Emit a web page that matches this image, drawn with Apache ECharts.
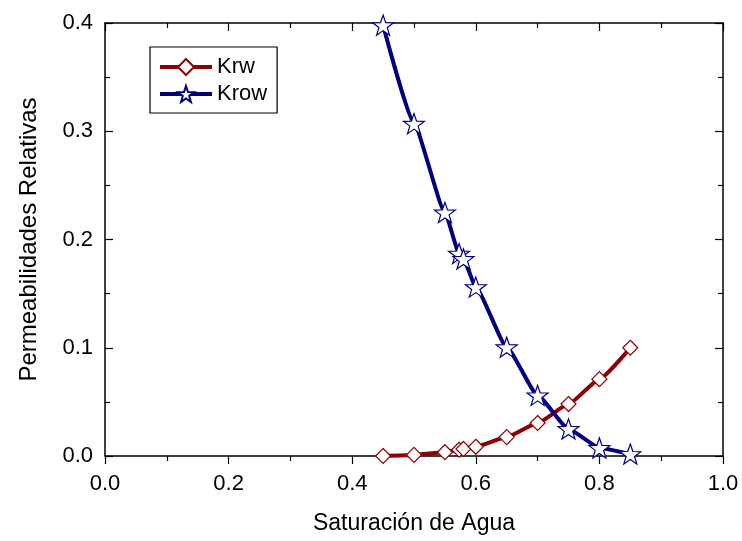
<!DOCTYPE html>
<html>
<head>
<meta charset="utf-8">
<style>
  html, body { margin: 0; padding: 0; background: #ffffff; }
  #chart { width: 742px; height: 541px; }
</style>
<script src="https://cdn.jsdelivr.net/npm/echarts@6/dist/echarts.min.js"></script>
</head>
<body>
<div id="chart"></div>
<script>
// Water saturation (fraction) and relative permeabilities
const swKrw = [0.45, 0.50, 0.55, 0.573, 0.58, 0.60, 0.65, 0.70, 0.75, 0.80, 0.85];
const krw   = [0.000, 0.001, 0.0035, 0.0058, 0.0065, 0.0085, 0.0175, 0.0305, 0.048, 0.071, 0.100];

const swKrow = [0.45, 0.50, 0.55, 0.573, 0.58, 0.60, 0.65, 0.70, 0.75, 0.80, 0.85];
const krow   = [0.398, 0.307, 0.225, 0.187, 0.182, 0.156, 0.1005, 0.056, 0.025, 0.0074, 0.0018];

const xTicks = ['0.0', '0.2', '0.4', '0.6', '0.8', '1.0'];
const yTicks = ['0.0', '0.1', '0.2', '0.3', '0.4'];

// Five-pointed star outline used as the Krow marker
function starPath() {
  const pts = [];
  for (let i = 0; i < 10; i++) {
    const a = (-90 + i * 36) * Math.PI / 180;
    const r = i % 2 === 0 ? 1 : 0.40;
    pts.push((r * Math.cos(a)).toFixed(4) + ' ' + (r * Math.sin(a)).toFixed(4));
  }
  return 'path://M' + pts.join(' L') + ' Z';
}

const font = '"Liberation Sans", Arial, Helvetica, sans-serif';
const red = '#8b0000';
const navy = '#000080';

const chart = echarts.init(document.getElementById('chart'), null, { renderer: 'canvas' });

const axisLine = { show: true, onZero: false, lineStyle: { color: '#000', width: 1.5 } };

chart.setOption({
  animation: false,
  backgroundColor: '#ffffff',
  grid: { left: 105, right: 19, top: 23, bottom: 85, containLabel: false },
  legend: {
    orient: 'vertical',
    left: 150, top: 47,
    padding: [9, 10, 8, 8],
    itemGap: 5,
    itemWidth: 52,
    itemHeight: 20,
    borderColor: '#000',
    borderWidth: 1.2,
    lineStyle: { width: 4 },
    textStyle: { fontFamily: font, fontSize: 22, color: '#000' },
    data: ['Krw', 'Krow']
  },
  xAxis: [
    {
      type: 'value', position: 'bottom', min: 0, max: 1, interval: 0.2,
      name: 'Saturación de Agua', nameLocation: 'middle', nameGap: 56,
      nameTextStyle: { fontFamily: font, fontSize: 23, color: '#000', verticalAlign: 'top' },
      axisLine: axisLine,
      axisTick: { show: true, inside: false, length: 8, lineStyle: { color: '#000', width: 1.2 } },
      minorTick: { show: true, splitNumber: 2, length: 5, lineStyle: { color: '#000', width: 1.2 } },
      axisLabel: {
        fontFamily: font, fontSize: 22, color: '#000', margin: 17,
        formatter: v => xTicks[Math.round(v / 0.2)]
      },
      splitLine: { show: false }
    },
    {
      type: 'value', position: 'top', min: 0, max: 1, interval: 0.2,
      axisLine: axisLine,
      axisTick: { show: true, inside: true, length: 8, lineStyle: { color: '#000', width: 1.2 } },
      minorTick: { show: true, splitNumber: 2, length: 5, lineStyle: { color: '#000', width: 1.2 } },
      axisLabel: { show: false },
      splitLine: { show: false }
    }
  ],
  yAxis: [
    {
      type: 'value', position: 'left', min: 0, max: 0.4, interval: 0.1,
      name: 'Permeabilidades Relativas', nameLocation: 'middle', nameGap: 64,
      nameTextStyle: { fontFamily: font, fontSize: 24, color: '#000' },
      axisLine: axisLine,
      axisTick: { show: true, inside: true, length: 8, lineStyle: { color: '#000', width: 1.2 } },
      minorTick: { show: true, splitNumber: 2, length: 5, lineStyle: { color: '#000', width: 1.2 } },
      axisLabel: {
        fontFamily: font, fontSize: 22, color: '#000', margin: 12,
        formatter: v => yTicks[Math.round(v / 0.1)]
      },
      splitLine: { show: false }
    },
    {
      type: 'value', position: 'right', min: 0, max: 0.4, interval: 0.1,
      axisLine: axisLine,
      axisTick: { show: true, inside: true, length: 8, lineStyle: { color: '#000', width: 1.2 } },
      minorTick: { show: true, splitNumber: 2, length: 5, lineStyle: { color: '#000', width: 1.2 } },
      axisLabel: { show: false },
      splitLine: { show: false }
    }
  ],
  series: [
    {
      name: 'Krw', type: 'line',
      data: swKrw.map((x, i) => [x, krw[i]]),
      smooth: 0.15, smoothMonotone: 'x',
      color: red,
      lineStyle: { color: red, width: 4 },
      symbol: 'diamond', symbolSize: [15, 15],
      showAllSymbol: true,
      itemStyle: { color: '#ffffff', borderColor: red, borderWidth: 1.2 },
      z: 2
    },
    {
      name: 'Krow', type: 'line',
      data: swKrow.map((x, i) => [x, krow[i]]),
      smooth: 0.15, smoothMonotone: 'x',
      color: navy,
      lineStyle: { color: navy, width: 4 },
      symbol: starPath(), symbolSize: [21, 20],
      showAllSymbol: true,
      itemStyle: { color: '#ffffff', borderColor: navy, borderWidth: 1.2 },
      z: 3
    }
  ]
});
</script>
</body>
</html>
